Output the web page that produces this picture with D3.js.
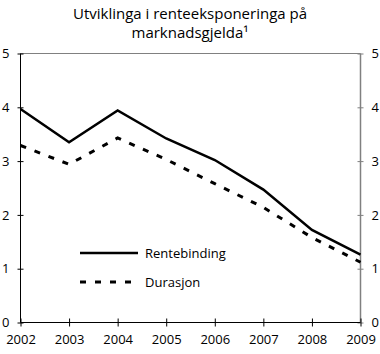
<!DOCTYPE html>
<html>
<head>
<meta charset="utf-8">
<script src="https://cdn.jsdelivr.net/npm/d3@7"></script>
<style>
  body { margin: 0; background: #fff; }
  text { font-family: "Open Sans", sans-serif; fill: #000; }
</style>
</head>
<body>
<svg id="chart" width="380" height="354"></svg>
<script>
var years = [2002, 2003, 2004, 2005, 2006, 2007, 2008, 2009]
var rentebinding = [3.97, 3.35, 3.94, 3.42, 3.02, 2.47, 1.72, 1.26]
var durasjon = [3.29, 2.94, 3.43, 3.03, 2.58, 2.14, 1.58, 1.12]
var yTicks = [0, 1, 2, 3, 4, 5]
var titleLines = ["Utviklinga i renteeksponeringa på", "marknadsgjelda¹"]
var seriesNames = ["Rentebinding", "Durasjon"]

function drawChart() {
    var svg = d3.select("#chart")
    var mLeft = 20.5, mRight = 360.5, mTop = 53.5, mBottom = 322.5

    var x = d3.scaleLinear().domain([2002, 2009]).range([mLeft, mRight])
    var y = d3.scaleLinear().domain([0, 5]).range([mBottom, mTop])

    // tittel
    svg.selectAll(".title")
        .data(titleLines)
        .enter()
        .append("text")
        .attr("x", 190)
        .attr("y", function (d, i) { return 19 + i * 19 })
        .attr("text-anchor", "middle")
        .style("font-size", "15px")
        .text(function (d) { return d })

    // topplinje
    svg.append("line")
        .attr("x1", mLeft).attr("x2", mRight)
        .attr("y1", y(5)).attr("y2", y(5))
        .attr("stroke", "#808080").attr("stroke-width", 1)

    // venstre akse
    var yLeft = d3.axisLeft(y).tickValues(yTicks).tickSize(3).tickPadding(8).tickFormat(d3.format("d"))
    var gl = svg.append("g").attr("transform", "translate(" + mLeft + ",0)").call(yLeft)
    gl.selectAll(".tick line").attr("x1", 3).attr("x2", -3)
    gl.selectAll("text").style("font-size", "13px")

    // høgre akse
    var yRight = d3.axisRight(y).tickValues(yTicks).tickSize(3).tickPadding(8).tickFormat(d3.format("d"))
    var gr = svg.append("g").attr("transform", "translate(" + mRight + ",0)").call(yRight)
    gr.selectAll(".tick line").attr("x1", -3).attr("x2", 3).attr("stroke", "#808080")
    gr.selectAll("text").style("font-size", "13px")

    // x-akse
    var xAxis = d3.axisBottom(x).tickValues(years).tickSize(4).tickPadding(8).tickFormat(d3.format("d"))
    var gx = svg.append("g").attr("transform", "translate(0," + mBottom + ")").call(xAxis)
    gx.selectAll(".tick line").attr("y1", -4).attr("y2", 4)
    gx.selectAll("text").style("font-size", "13px")

    svg.selectAll(".domain").remove()
    gl.append("line").attr("y1", mTop).attr("y2", mBottom).attr("stroke", "#000")
    gr.append("line").attr("y1", mTop).attr("y2", mBottom).attr("stroke", "#808080").attr("stroke-width", 1.5)
    gx.append("line").attr("x1", mLeft).attr("x2", mRight).attr("stroke", "#000")

    var line = d3.line()
        .x(function (d, i) { return x(years[i]) })
        .y(function (d) { return y(d) })

    svg.append("path")
        .datum(durasjon)
        .attr("d", line)
        .attr("fill", "none")
        .attr("stroke", "#000")
        .attr("stroke-width", 3)
        .attr("stroke-dasharray", "6,9")

    svg.append("path")
        .datum(rentebinding)
        .attr("d", line)
        .attr("fill", "none")
        .attr("stroke", "#000")
        .attr("stroke-width", 2.5)

    // forklaring
    var legend = svg.selectAll(".legend")
        .data(seriesNames)
        .enter()
        .append("g")
        .attr("transform", function (d, i) { return "translate(80," + (253 + i * 29) + ")" })

    legend.append("line")
        .attr("x1", 0).attr("x2", 58)
        .attr("stroke", "#000")
        .attr("stroke-width", function (d, i) { return i == 0 ? 2.5 : 3 })
        .attr("stroke-dasharray", function (d, i) { return i == 0 ? null : "6,9" })

    legend.append("text")
        .attr("x", 65)
        .attr("dy", "0.35em")
        .style("font-size", "13px")
        .text(function (d) { return d })
}

drawChart()
</script>
</body>
</html>
